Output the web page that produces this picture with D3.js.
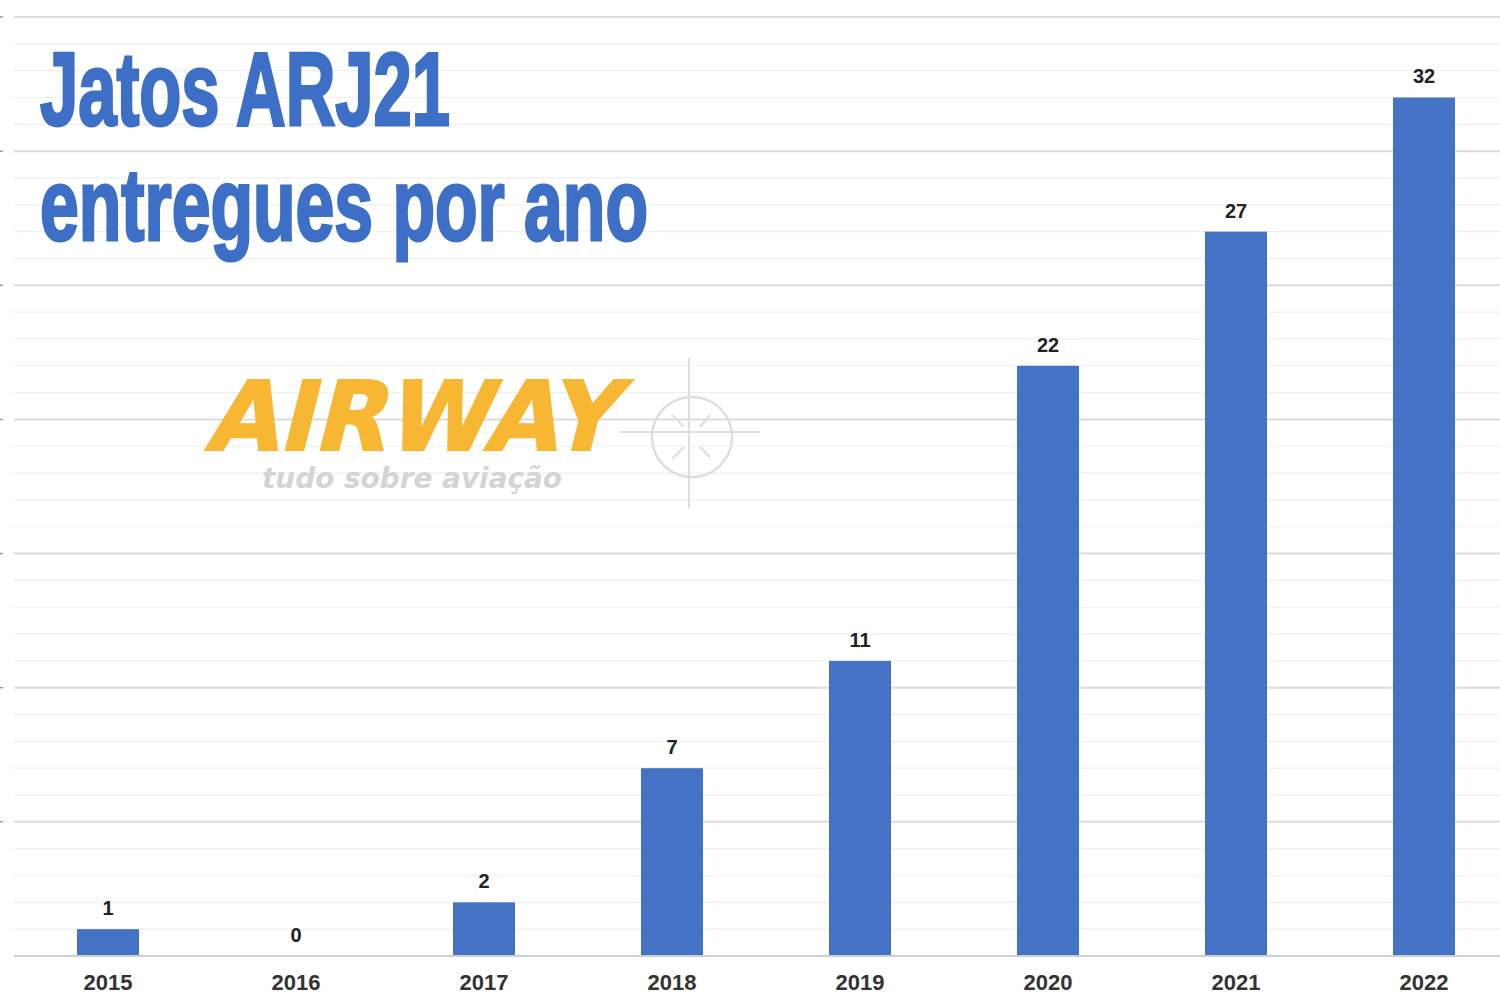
<!DOCTYPE html>
<html>
<head>
<meta charset="utf-8">
<script src="https://cdn.jsdelivr.net/npm/d3@7"></script>
<style>
  html, body { margin: 0; padding: 0; background: #ffffff; }
  svg { display: block; }
</style>
</head>
<body>
<svg id="chart" width="1500" height="1000"></svg>
<script>
// ---- data ----
const years = ["2015", "2016", "2017", "2018", "2019", "2020", "2021", "2022"];
const deliveries = [1, 0, 2, 7, 11, 22, 27, 32];
const titleLines = ["Jatos ARJ21", "entregues por ano"];
const logoText = "AIRWAY";
const logoSub = "tudo sobre aviação";

// ---- layout ----
const W = 1500, H = 1000;
const svg = d3.select("#chart");

const x = d3.scaleBand()
  .domain(years)
  .range([14, 1518])
  .paddingInner(0.67)
  .paddingOuter(0.335);

const y = d3.scaleLinear().domain([0, 35]).range([956, 17]);

// gridlines: minor (every 1) and major (every 5)
const minorTicks = d3.range(1, 36).filter(v => v % 5 !== 0);
const majorTicks = d3.range(5, 36, 5);

svg.append("g").selectAll("line").data(minorTicks).join("line")
  .attr("x1", 14).attr("x2", W)
  .attr("y1", d => y(d)).attr("y2", d => y(d))
  .attr("stroke", "#efefef").attr("stroke-width", 1.2);

svg.append("g").selectAll("line").data(majorTicks).join("line")
  .attr("x1", 14).attr("x2", W)
  .attr("y1", d => y(d)).attr("y2", d => y(d))
  .attr("stroke", "#dcdcdc").attr("stroke-width", 2);

// left-edge small tick marks
svg.append("g").selectAll("line").data(majorTicks).join("line")
  .attr("x1", 0).attr("x2", 3)
  .attr("y1", d => y(d)).attr("y2", d => y(d))
  .attr("stroke", "#999").attr("stroke-width", 1.5);

// ---- logo watermark ----
const logo = svg.append("g");
logo.append("text")
  .attr("x", 205).attr("y", 450)
  .attr("font-family", "DejaVu Sans")
  .attr("font-weight", "bold")
  .attr("font-size", 96)
  .attr("fill", "#F8B733")
  .attr("stroke", "#F8B733")
  .attr("stroke-width", 2)
  .attr("textLength", 410)
  .attr("lengthAdjust", "spacingAndGlyphs")
  .attr("transform", "skewX(-14) translate(112,0)")
  .text(logoText);
logo.append("text")
  .attr("x", 262).attr("y", 488)
  .attr("font-family", "DejaVu Sans")
  .attr("font-weight", "bold")
  .attr("font-style", "italic")
  .attr("font-size", 28)
  .attr("fill", "#d4d4d4")
  .attr("textLength", 300)
  .attr("lengthAdjust", "spacingAndGlyphs")
  .text(logoSub);
// compass rose
const cx = 692, cy = 437;
const comp = logo.append("g").attr("stroke", "#dedede").attr("fill", "none").attr("stroke-width", 2.5);
comp.append("circle").attr("cx", cx).attr("cy", cy).attr("r", 40);
comp.append("line").attr("x1", cx - 3).attr("x2", cx - 3).attr("y1", 358).attr("y2", 508).attr("stroke-width", 2);
comp.append("line").attr("x1", 620).attr("x2", 760).attr("y1", cy - 5).attr("y2", cy - 5).attr("stroke-width", 2);
comp.append("path").attr("d", `M${cx-20},${cy-22} L${cx-8},${cy-10} M${cx+18},${cy-22} L${cx+8},${cy-10} M${cx-20},${cy+22} L${cx-8},${cy+10} M${cx+18},${cy+20} L${cx+8},${cy+10}`).attr("stroke-width", 2);

// ---- bars ----
svg.append("g").selectAll("rect").data(years).join("rect")
  .attr("x", d => x(d))
  .attr("width", x.bandwidth())
  .attr("y", (d, i) => y(deliveries[i]))
  .attr("height", (d, i) => y(0) - y(deliveries[i]))
  .attr("fill", "#4472C4");

// baseline
svg.append("line")
  .attr("x1", 14).attr("x2", W)
  .attr("y1", y(0)).attr("y2", y(0))
  .attr("stroke", "#cfcfcf").attr("stroke-width", 2);

// value labels
svg.append("g").selectAll("text").data(years).join("text")
  .attr("x", d => x(d) + x.bandwidth() / 2)
  .attr("y", (d, i) => y(deliveries[i]) - 14)
  .attr("text-anchor", "middle")
  .attr("font-family", "Liberation Sans, Arial, sans-serif")
  .attr("font-weight", "bold")
  .attr("font-size", 20)
  .attr("fill", "#222")
  .text((d, i) => deliveries[i]);

// x axis labels
const xAxis = d3.axisBottom(x).tickSize(0).tickPadding(0);
const gx = svg.append("g").attr("transform", `translate(0,${y(0)})`).call(xAxis);
gx.select(".domain").remove();
gx.selectAll("text")
  .attr("dy", null)
  .attr("y", 34)
  .attr("font-family", "Liberation Sans, Arial, sans-serif")
  .attr("font-weight", "bold")
  .attr("font-size", 22)
  .attr("fill", "#333");

// ---- title ----
svg.append("text")
  .attr("x", 40).attr("y", 125)
  .attr("font-family", "Liberation Sans, Arial, sans-serif")
  .attr("font-weight", "bold")
  .attr("font-size", 104)
  .attr("fill", "#3D6FC7")
  .attr("stroke", "#3D6FC7")
  .attr("stroke-width", 3)
  .attr("textLength", 410)
  .attr("lengthAdjust", "spacingAndGlyphs")
  .text(titleLines[0]);
svg.append("text")
  .attr("x", 40).attr("y", 240)
  .attr("font-family", "Liberation Sans, Arial, sans-serif")
  .attr("font-weight", "bold")
  .attr("font-size", 102)
  .attr("fill", "#3D6FC7")
  .attr("stroke", "#3D6FC7")
  .attr("stroke-width", 3)
  .attr("textLength", 608)
  .attr("lengthAdjust", "spacingAndGlyphs")
  .text(titleLines[1]);
</script>
</body>
</html>
